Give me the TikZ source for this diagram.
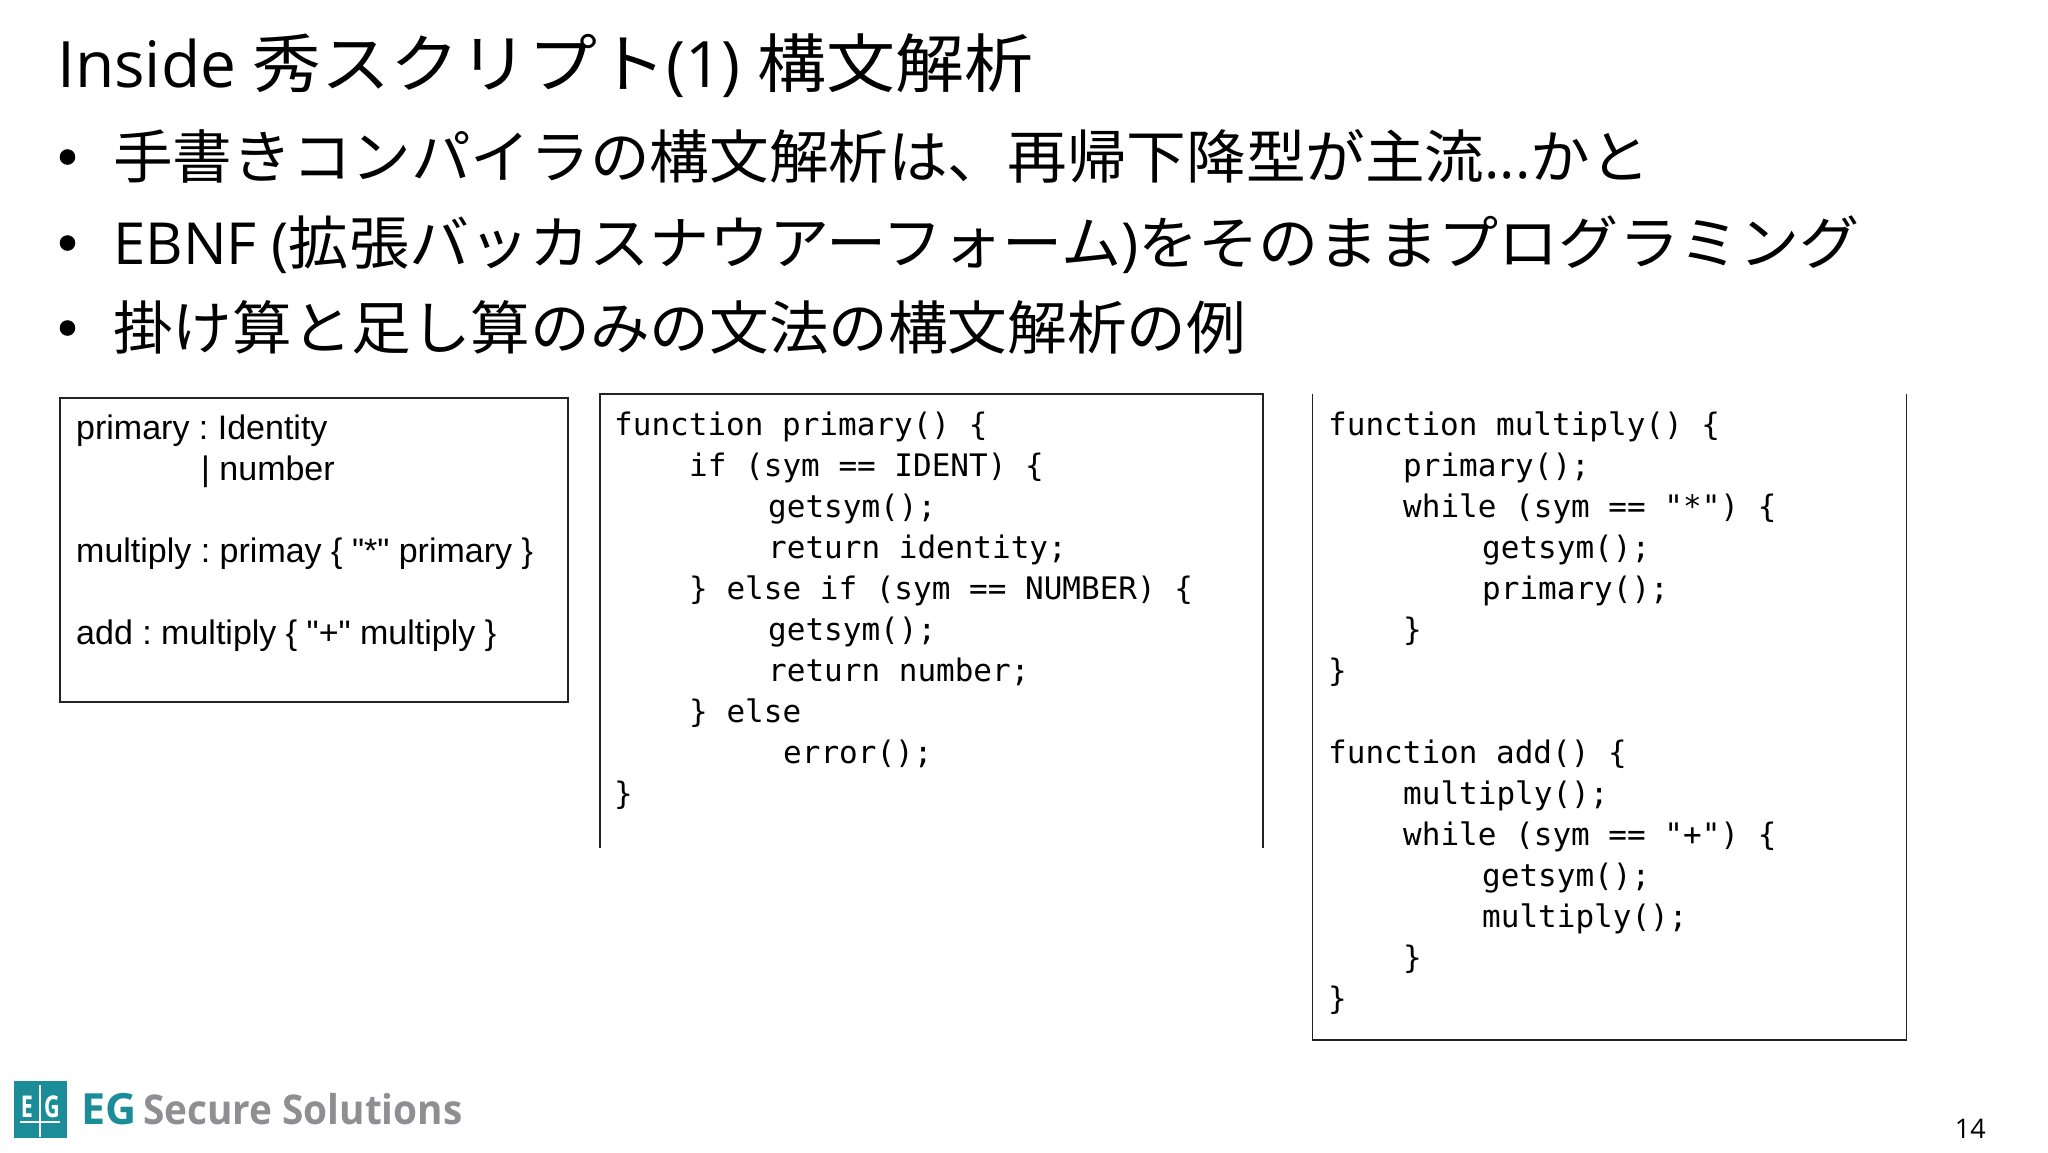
\documentclass[tikz,border=0pt]{standalone}
\usepackage{fontspec}
\usepackage{xcolor}
\usetikzlibrary{positioning,calc}
\setmainfont{Open Sans}
\newfontfamily\titlejp[FakeStretch=1.077]{Noto Sans CJK JP}
\newfontfamily\jpfont[FakeStretch=1.028]{Noto Sans CJK JP}
\newfontfamily\widejp[FakeStretch=1.036]{Noto Sans CJK JP}
\newfontfamily\gramfont{Liberation Sans}
\newfontfamily\codefont{DejaVu Sans Mono}
\newfontfamily\logofont[FakeStretch=0.945]{Open Sans}
\newfontfamily\logoeg{Open Sans}
\newfontfamily\logomark[FakeStretch=0.72]{Open Sans}
\newcommand{\jp}[1]{{\jpfont #1}}
\newcommand{\indA}{\hspace*{75pt}}
\newcommand{\indB}{\hspace*{154pt}}
\definecolor{logoteal}{HTML}{1B8D98}
\definecolor{logogray}{HTML}{8F8F93}
\definecolor{framegray}{HTML}{222222}
\tikzset{
  titletext/.style={anchor=base west,inner sep=0pt,font=\fontsize{64}{70}\selectfont},
  bullettext/.style={anchor=base west,inner sep=0pt,font=\fontsize{58}{64}\selectfont},
  gramtext/.style={anchor=north west,inner sep=0pt,align=left,font=\gramfont\frenchspacing\fontsize{34}{41}\selectfont},
  codetext/.style={anchor=north west,inner sep=0pt,align=left,font=\codefont\fontsize{31}{41}\selectfont},
  frameline/.style={draw=framegray,line width=1.5pt},
  markletter/.style={anchor=base,inner sep=0pt,text=white,font=\logomark\bfseries\fontsize{30}{30}\selectfont},
  logotext/.style={anchor=base west,inner sep=0pt,font=\logofont\bfseries\fontsize{41}{41}\selectfont}
}
\begin{document}
\begin{tikzpicture}[x=1pt,y=-1pt]
    \useasboundingbox (0,0) rectangle (2048,1152);

    % Title and bullets
    \node[titletext] (title) at (57,87) {Inside {\titlejp 秀スクリプト}(1) {\titlejp 構文解析}};
    \foreach \y in {157,243,328}
        \fill (67.5,\y) circle (7.8);
    \node[bullettext] (lineA) at (113,178) {\jp{手書きコンパイラの構文解析は、再帰下降型が主流}...\jp{かと}};
    \node[bullettext] (lineB) at (113,264) {EBNF ({\widejp 拡張バッカスナウアーフォーム}){\widejp をそのままプログラミング}};
    \node[bullettext] (lineC) at (113,349) {\jp{掛け算と足し算のみの文法の構文解析の例}};

    % Grammar box
    \draw[frameline] (60,398) rectangle (568,702);
    \node[gramtext] (grammar) at (76,415) {primary : Identity\\
        \hspace*{125pt}| number\\
        \mbox{}\\
        multiply : primay \{ "*" primary \}\\
        \mbox{}\\
        add : multiply \{ "+" multiply \}};

    % Primary box, open at the bottom
    \draw[frameline] (600,848) -- (600,394) -- (1263,394) -- (1263,848);
    \node[codetext] (primary) at (614,412) {function primary() \{\\
        \indA if (sym == IDENT) \{\\
        \indB getsym();\\
        \indB return identity;\\
        \indA \} else if (sym == NUMBER) \{\\
        \indB getsym();\\
        \indB return number;\\
        \indA \} else\\
        \hspace*{169pt}error();\\
        \}};

    % Multiply and add box, open at the top
    \draw[frameline] (1312.5,394) -- (1312.5,1040) -- (1906.5,1040) -- (1906.5,394);
    \node[codetext] (multiply) at (1328,412) {function multiply() \{\\
        \indA primary();\\
        \indA while (sym == "*") \{\\
        \indB getsym();\\
        \indB primary();\\
        \indA \}\\
        \}\\
        \mbox{}\\
        function add() \{\\
        \indA multiply();\\
        \indA while (sym == "+") \{\\
        \indB getsym();\\
        \indB multiply();\\
        \indA \}\\
        \}};

    % Logo
    \fill[logoteal] (14,1081) rectangle (67,1138);
    \node[markletter] (logoE) at (27,1117) {E};
    \node[markletter] (logoG) at (52,1117) {G};
    \draw[white,line width=1.2pt] (40,1085) -- (40,1137);
    \draw[white,line width=1.2pt] (20,1122) -- (60,1122);
    \node[logotext,text=logoteal,font=\logoeg\bfseries\fontsize{43}{43}\selectfont] (logoEG) at (81,1124) {EG};
    \node[logotext,text=logogray] (logoname) at (143,1124) {Secure Solutions};

    % Page number
    \node[anchor=base east,inner sep=0pt,font=\fontsize{27}{27}\selectfont] (pageno) at (1986,1138) {14};
\end{tikzpicture}
\end{document}
